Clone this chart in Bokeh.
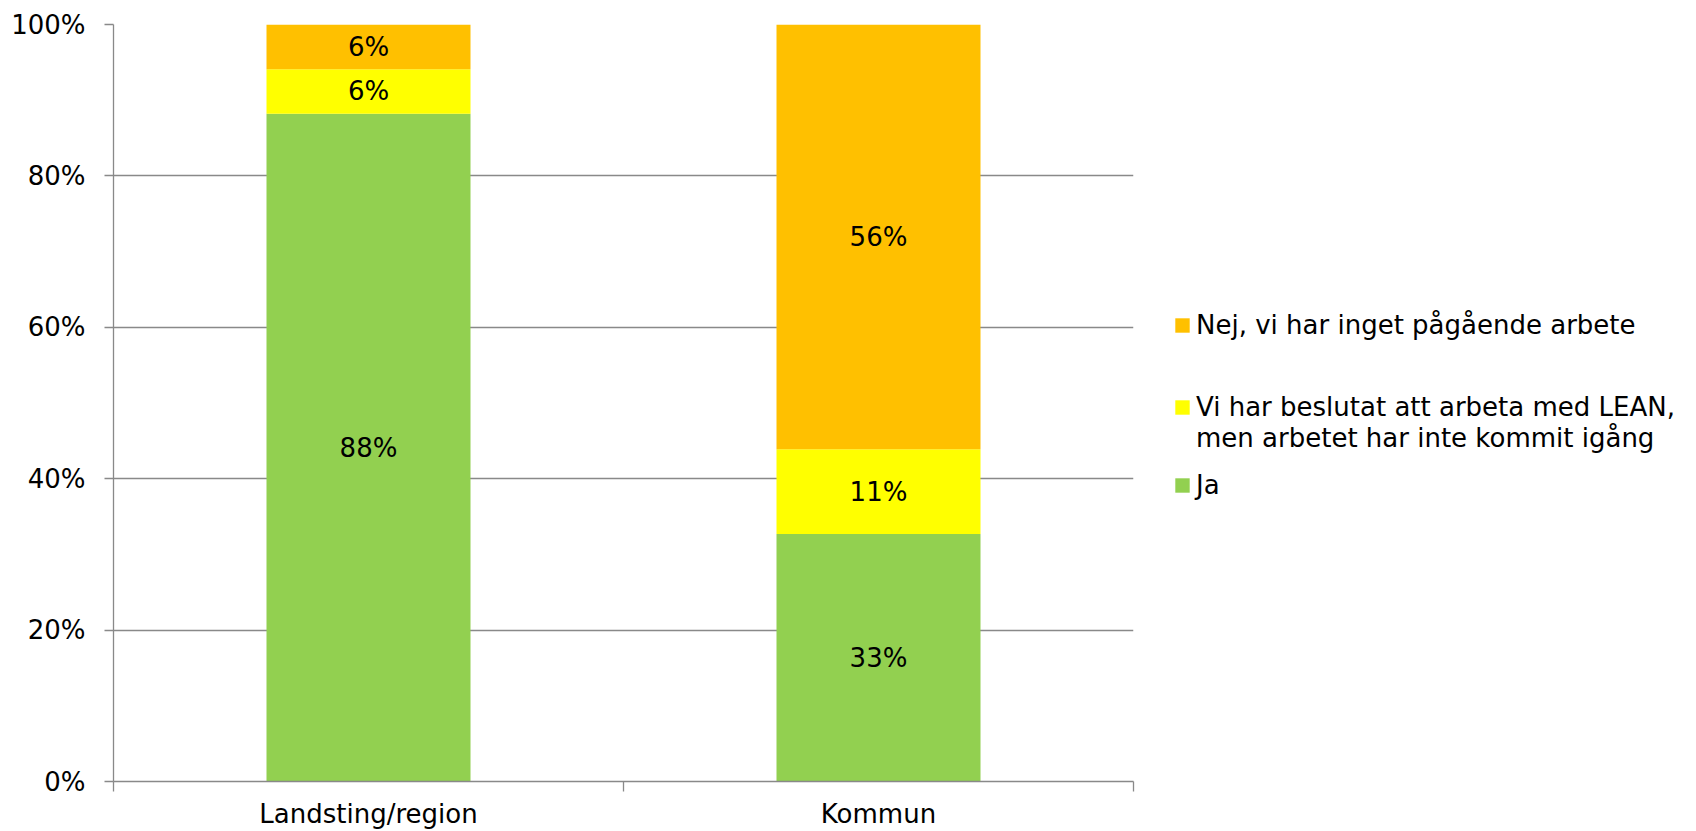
from bokeh.plotting import figure
from bokeh.layouts import row
from bokeh.models import (Range1d, FixedTicker, ColumnDataSource, Legend, LegendItem,
                          PrintfTickFormatter)
from bokeh.core.properties import value
from bokeh.embed import file_html
from bokeh.resources import INLINE

categories = ["Landsting/region", "Kommun"]
series_names = ["Ja", "Vi har beslutat att arbeta med LEAN,\nmen arbetet har inte kommit igång",
                "Nej, vi har inget pågående arbete"]
ja = [88.2, 32.7]
beslutat = [5.9, 11.2]
nej = [5.9, 56.1]
y_ticks = [0, 20, 40, 60, 80, 100]

colors = ["#92D050", "#FFFF00", "#FFC000"]
FONT = "DejaVu Sans"
FS = "26px"
GRID = "#898989"
H = 828

xs = [i + 0.5 for i in range(len(categories))]
src = ColumnDataSource(dict(x=xs, ja=ja, beslutat=beslutat, nej=nej))

p = figure(frame_width=1020, frame_height=757, min_border_left=113, min_border_right=20,
           min_border_top=24, min_border_bottom=H - 24 - 757,
           x_range=Range1d(0, len(categories)), y_range=Range1d(0, 100),
           output_backend="svg", toolbar_location=None)
p.outline_line_color = None

rs = p.vbar_stack(["ja", "beslutat", "nej"], x="x", width=0.4, source=src,
                  color=colors, line_color=None)

# data labels
lab_x, lab_y, lab_t = [], [], []
for i in range(len(categories)):
    bottom = 0
    for series in (ja, beslutat, nej):
        v = series[i]
        lab_x.append(xs[i])
        lab_y.append(bottom + v / 2)
        lab_t.append(f"{round(v)}%")
        bottom += v
p.text(x=lab_x, y=lab_y, text=lab_t, text_align="center", text_baseline="middle",
       text_font=value(FONT), text_font_size=FS, text_color="black")

# axes
p.yaxis.ticker = FixedTicker(ticks=y_ticks)
p.yaxis.formatter = PrintfTickFormatter(format="%d%%")
p.yaxis.major_label_text_font = FONT
p.yaxis.major_label_text_font_size = FS
p.yaxis.major_label_text_color = "black"
p.yaxis.axis_line_color = GRID
p.yaxis.axis_line_width = 1.3
p.yaxis.major_tick_line_color = GRID
p.yaxis.major_tick_line_width = 1.3
p.yaxis.major_tick_out = 9
p.yaxis.major_tick_in = 0
p.yaxis.minor_tick_line_color = None
p.yaxis.major_label_standoff = 19

p.xaxis.ticker = FixedTicker(ticks=xs, minor_ticks=list(range(len(categories) + 1)))
p.xaxis.major_label_overrides = {x: c for x, c in zip(xs, categories)}
p.xaxis.major_label_text_font = FONT
p.xaxis.major_label_text_font_size = FS
p.xaxis.major_label_text_color = "black"
p.xaxis.axis_line_color = GRID
p.xaxis.axis_line_width = 1.3
p.xaxis.major_tick_line_color = None
p.xaxis.major_tick_out = 0
p.xaxis.major_tick_in = 0
p.xaxis.minor_tick_line_color = GRID
p.xaxis.minor_tick_line_width = 1.3
p.xaxis.minor_tick_out = 10
p.xaxis.minor_tick_in = 0
p.xaxis.major_label_standoff = 7

p.xgrid.grid_line_color = None
p.ygrid.ticker = FixedTicker(ticks=y_ticks)
p.ygrid.grid_line_color = GRID
p.ygrid.grid_line_width = 1.3

# legend panel
LW = 540
q = figure(frame_width=LW, frame_height=H, min_border=0, x_range=Range1d(0, LW),
           y_range=Range1d(0, H), output_backend="svg", toolbar_location=None)
q.axis.visible = False
q.grid.visible = False
q.outline_line_color = None
nan = float("nan")
dummies = [q.vbar(x=[nan], top=[nan], width=1, fill_color=c, line_color=None)
           for c in colors]
blank = q.vbar(x=[nan], top=[nan], width=1, fill_alpha=0, line_alpha=0)

def make_legend(label, renderer, loc):
    leg = Legend(items=[LegendItem(label=label, renderers=[renderer])], location=loc,
                 label_text_font=FONT, label_text_font_size=FS, label_text_color="black",
                 label_height=31, glyph_height=18, glyph_width=18, label_standoff=5,
                 padding=0, margin=0, spacing=0, border_line_color=None,
                 background_fill_alpha=0)
    q.add_layout(leg)

vi_lines = series_names[1].split("\n")
make_legend(series_names[2], dummies[2], (20, H - 340))
make_legend(vi_lines[0], dummies[1], (20, H - 422))
make_legend(vi_lines[1], blank, (20, H - 453))
make_legend(series_names[0], dummies[0], (20, H - 500))

layout = row(p, q)
open("out.html", "w").write(file_html(layout, INLINE))
